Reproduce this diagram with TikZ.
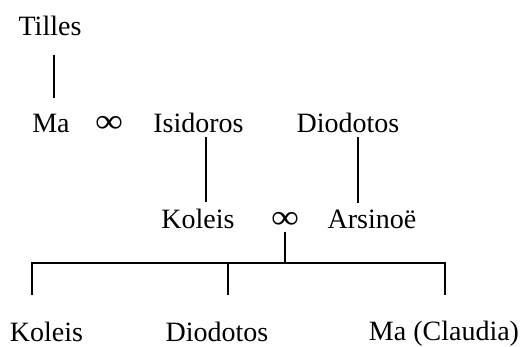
\documentclass[tikz,border=0pt]{standalone}
\usepackage{fontspec}
\setmainfont{Liberation Serif}
\usetikzlibrary{calc}
\tikzset{person/.style={anchor=base, inner sep=0pt, font=\fontsize{28}{34}\selectfont},
  tie/.style={line width=1.2pt}}
\newcommand{\wedlock}{\scalebox{1.4}[1.2]{∞}}

\begin{document}
\begin{tikzpicture}[x=1pt,y=-1pt]
   \useasboundingbox (0,0) rectangle (522,346);
   % generations
   \node[person] (tilles) at (50,35) {Tilles};
   \node[person] (ma) at (51,132) {Ma};
   \node[person] (wed1) at (109,132) {\wedlock};
   \node[person] (isidoros) at (198.5,132) {Isidoros};
   \node[person] (diodotos) at (348,132) {Diodotos};
   \node[person] (koleis) at (198,228) {Koleis};
   \node[person] (wed2) at (285,228) {\wedlock};
   \node[person] (arsinoe) at (372,228) {Arsinoë};
   \node[person] (koleisjr) at (46.5,341) {Koleis};
   \node[person] (diodotosjr) at (217,341) {Diodotos};
   \node[person] (claudia) at (444,340) {Ma (Claudia)};
   \coordinate (bar) at (285,263);
   % descent lines
   \draw[tie] ($(tilles.base)+(4,20)$) -- ($(ma.base)+(3,-34)$);
   \draw[tie] ($(isidoros.base)+(7.5,5)$) -- ($(koleis.base)+(8,-26)$);
   \draw[tie] ($(diodotos.base)+(10,5)$) -- ($(arsinoe.base)+(-14,-25)$);
   \draw[tie] ($(wed2.base)+(0,4)$) -- (bar);
   \draw[tie] ($(koleisjr.base)+(-14.5,-46)$) -- ($(koleisjr.base)+(-14.5,-78)$)
      -- ($(claudia.base)+(1,-77)$) -- ($(claudia.base)+(1,-45)$);
   \draw[tie] ($(diodotosjr.base)+(11,-46)$) -- ($(diodotosjr.base)+(11,-78)$);
\end{tikzpicture}
\end{document}
